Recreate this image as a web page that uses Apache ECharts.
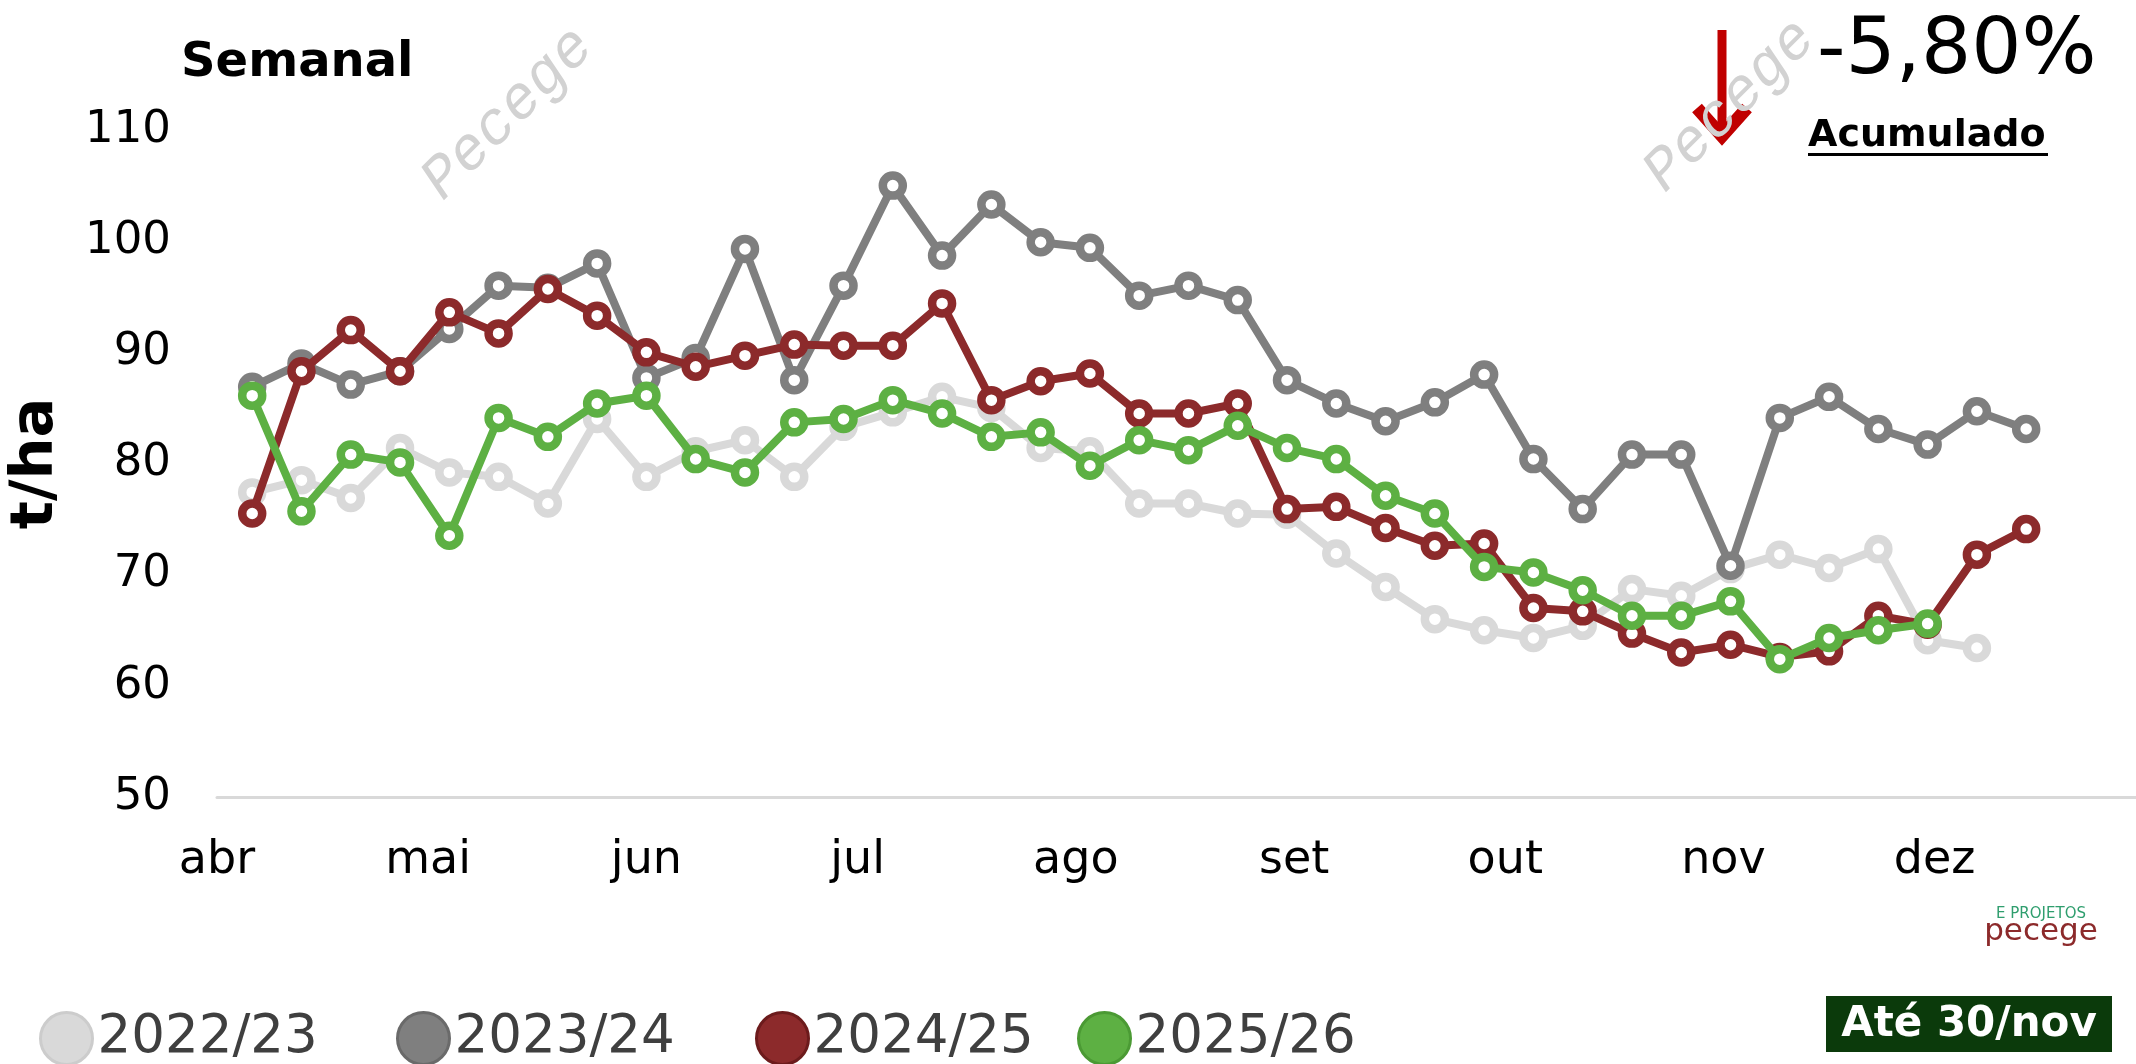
<!DOCTYPE html>
<html>
<head>
<meta charset="utf-8">
<script src="https://cdn.jsdelivr.net/npm/echarts@6.0.0/dist/echarts.min.js"></script>
<style>
    html, body {margin: 0; padding: 0; background: #fff;}
    #chart {width: 2136px; height: 1064px;}
</style>
</head>
<body>
<div id="chart"></div>
<script>
// dias desde 1/abr de cada leitura semanal
const weekDays = [5, 12, 19, 26, 33, 40, 47, 54, 61, 68, 75, 82, 89, 96, 103, 110, 117, 124, 131,
    138, 145, 152, 159, 166, 173, 180, 187, 194, 201, 208, 215, 222, 229, 236, 243, 250, 257];

const monthStarts = [0, 30, 61, 91, 122, 153, 183, 214, 244];
const monthLabels = ['abr', 'mai', 'jun', 'jul', 'ago', 'set', 'out', 'nov', 'dez'];

const seriesNames = ['2022/23', '2023/24', '2024/25', '2025/26'];

const s2223 = [77.4, 78.5, 76.9, 81.4, 79.2, 78.8, 76.4, 84.0, 78.8, 81.1, 82.1, 78.8, 83.3, 84.6, 86.0, 85.0,
    81.4, 81.1, 76.4, 76.4, 75.5, 75.4, 71.9, 68.9, 66.0, 65.0, 64.3, 65.4, 68.7, 68.1, 70.5, 71.8, 70.6, 72.3,
    64.1, 63.4];
const s2324 = [86.9, 89.0, 87.1, 88.3, 92.1, 96.0, 95.8, 98.0, 87.7, 89.5, 99.3, 87.5, 96.0, 105.0, 98.7, 103.3,
    99.9, 99.4, 95.1, 96.0, 94.7, 87.5, 85.4, 83.8, 85.5, 88.0, 80.4, 75.9, 80.8, 80.8, 70.8, 84.1, 86.0, 83.1,
    81.7, 84.7, 83.1];
const s2425 = [75.5, 88.3, 92.0, 88.3, 93.6, 91.7, 95.7, 93.3, 90.0, 88.7, 89.7, 90.7, 90.6, 90.6, 94.4, 85.7,
    87.4, 88.1, 84.5, 84.5, 85.4, 75.9, 76.1, 74.2, 72.6, 72.8, 67.0, 66.7, 64.7, 63.0, 63.7, 62.6, 63.1, 66.3,
    65.5, 71.8, 74.1];
const s2526 = [86.1, 75.7, 80.8, 80.1, 73.5, 84.1, 82.4, 85.4, 86.1, 80.4, 79.2, 83.7, 84.0, 85.7, 84.5, 82.4,
    82.8, 79.8, 82.1, 81.2, 83.4, 81.4, 80.4, 77.1, 75.5, 70.7, 70.2, 68.6, 66.3, 66.3, 67.6, 62.4, 64.3, 65.0,
    65.6];

const seriesValues = [s2223, s2324, s2425, s2526];
const lineColors = ['#d9d9d9', '#7f7f7f', '#8c2a2b', '#5db043'];
const legendBorders = ['#cccccc', '#6a6a6a', '#6c1b1c', '#4b9a34'];
const legendLeft = [39, 396, 755, 1077];

const FONT = '"DejaVu Sans", sans-serif';

let chart = echarts.init(document.getElementById('chart'));

let series = seriesValues.map((vals, k) => {
    return {
        name: seriesNames[k],
        type: 'line',
        data: vals.map((v, i) => [weekDays[i], v]),
        symbol: 'circle',
        symbolSize: 20,
        z: 2 + k,
        lineStyle: {color: lineColors[k], width: 8},
        itemStyle: {color: '#ffffff', borderColor: lineColors[k], borderWidth: 8.5},
        emphasis: {disabled: true}
    };
});

let legends = seriesNames.map((n, k) => {
    return {
        data: [{name: n, itemStyle: {color: lineColors[k], borderColor: legendBorders[k], borderWidth: 3}}],
        left: legendLeft[k],
        top: 1011,
        padding: 0,
        icon: 'circle',
        itemWidth: 52,
        itemHeight: 52,
        selectedMode: false,
        textStyle: {fontSize: 53, fontFamily: FONT, color: '#3f3f3f', lineHeight: 52}
    };
});

let option = {
    animation: false,
    backgroundColor: '#ffffff',
    grid: {left: 217, right: 0, top: 130, bottom: 267, outerBoundsMode: 'none'},
    xAxis: {
        type: 'value',
        min: 0,
        max: 272.6,
        axisLine: {show: true, lineStyle: {color: '#d9d9d9', width: 3}},
        axisTick: {show: false},
        splitLine: {show: false},
        axisLabel: {
            customValues: monthStarts,
            formatter: (v) => monthLabels[monthStarts.indexOf(v)],
            fontSize: 46,
            fontFamily: FONT,
            color: '#000',
            margin: 41
        }
    },
    yAxis: {
        type: 'value',
        min: 50,
        max: 110,
        interval: 10,
        name: 't/ha',
        nameLocation: 'middle',
        nameRotate: 90,
        nameGap: 151,
        nameTextStyle: {fontSize: 59, fontWeight: 'bold', fontFamily: FONT, color: '#000'},
        axisLine: {show: false},
        axisTick: {show: false},
        splitLine: {show: false},
        axisLabel: {fontSize: 45, fontFamily: FONT, color: '#000', margin: 46}
    },
    legend: legends,
    series: series,
    graphic: [
        {type: 'text', x: 181, y: 64, style: {text: 'Semanal', fontSize: 48, fontWeight: 'bold', fontFamily: FONT, fill: '#000', align: 'left', verticalAlign: 'middle'}},
        {type: 'text', x: 1817, y: 52, style: {text: '-5,80%', fontSize: 79, fontFamily: FONT, fill: '#000', align: 'left', verticalAlign: 'middle'}},
        {type: 'text', x: 1808, y: 136, style: {text: 'Acumulado', fontSize: 38, fontWeight: 'bold', fontFamily: FONT, fill: '#000', align: 'left', verticalAlign: 'middle'}},
        {type: 'rect', shape: {x: 1808, y: 153, width: 240, height: 3}, style: {fill: '#000'}},
        // seta vermelha
        {type: 'line', shape: {x1: 1722, y1: 30, x2: 1722, y2: 134}, style: {stroke: '#c00000', lineWidth: 9}},
        {type: 'polyline', shape: {points: [[1697, 108], [1722, 136], [1747, 108]]}, style: {stroke: '#c00000', lineWidth: 13, fill: null}},
        // marca d'agua
        {type: 'text', x: 508, y: 114, rotation: Math.PI / 4, style: {text: 'Pecege', fontSize: 60, fontStyle: 'italic', fontFamily: '"Liberation Mono", monospace', fill: '#d2d2d2', align: 'center', verticalAlign: 'middle'}},
        {type: 'text', x: 1730, y: 106, rotation: Math.PI / 4, z: 100, style: {text: 'Pecege', fontSize: 60, fontStyle: 'italic', fontFamily: '"Liberation Mono", monospace', fill: '#d2d2d2', align: 'center', verticalAlign: 'middle'}},
        // logo
        {type: 'text', x: 2041, y: 914, style: {text: 'E PROJETOS', fontSize: 15, fontFamily: FONT, fill: '#2f9e6e', align: 'center', verticalAlign: 'middle'}},
        {type: 'text', x: 2041, y: 932, style: {text: 'pecege', fontSize: 31, fontFamily: FONT, fill: '#8c2a2b', align: 'center', verticalAlign: 'middle'}},
        // selo de data
        {type: 'rect', shape: {x: 1826, y: 996, width: 286, height: 56}, style: {fill: '#0b3a0b'}},
        {type: 'text', x: 1969, y: 1025, style: {text: 'Até 30/nov', fontSize: 42, fontWeight: 'bold', fontFamily: FONT, fill: '#ffffff', align: 'center', verticalAlign: 'middle'}}
    ]
};

chart.setOption(option);
</script>
</body>
</html>
